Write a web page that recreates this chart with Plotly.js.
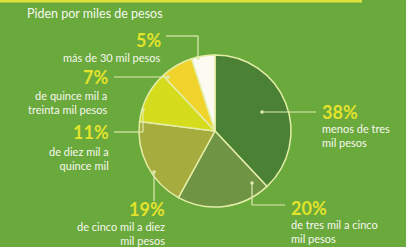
<!DOCTYPE html>
<html><head><meta charset="utf-8">
<script src="https://cdn.plot.ly/plotly-3.0.1.min.js"></script>
<style>html,body{margin:0;padding:0;background:#6aa93c;}#chart{width:406px;height:247px;}</style>
</head><body><div id="chart"></div>
<script>
const categories = ["menos de tres<br>mil pesos", "de tres mil a cinco<br>mil pesos", "de cinco mil a diez<br>mil pesos", "de diez mil a<br>quince mil", "de quince mil a<br>treinta mil pesos", "más de 30 mil pesos"];
const values = [38, 20, 19, 11, 7, 5];
const pctLabels = ["38%", "20%", "19%", "11%", "7%", "5%"];
const sliceColors = ["#4b8135", "#6f9443", "#a6ad3e", "#d5dc1e", "#f0d42c", "#fbfbf2"];
const title = "Piden por miles de pesos";

const W = 406, H = 247;
const px = x => x / W, py = y => 1 - y / H;
const cx = 215, cy = 131, R = 76;

// label placement (pixels): pct x, pct y, anchor, desc y
const place = [
  {x: 320, y: 112, a: "left",  dy: 135},
  {x: 289, y: 208, a: "left",  dy: 231},
  {x: 167, y: 209, a: "right", dy: 233},
  {x: 111, y: 132, a: "right", dy: 158},
  {x: 110, y: 77,  a: "right", dy: 102},
  {x: 163, y: 40,  a: "right", dy: 57}
];

const annotations = [{
  text: title, xref: "paper", yref: "paper", x: px(25), y: py(14),
  xanchor: "left", yanchor: "middle", showarrow: false,
  font: {family: "Lato", size: 12.5, color: "#f4f8ee"}
}];
categories.forEach((c, i) => {
  const p = place[i];
  annotations.push({
    text: "<b>" + pctLabels[i] + "</b>", xref: "paper", yref: "paper",
    x: px(p.x), y: py(p.y), xanchor: p.a, yanchor: "middle", showarrow: false,
    font: {family: "Lato", size: 18, color: "#e3e32c"}
  });
  annotations.push({
    text: c, xref: "paper", yref: "paper", align: p.a,
    x: px(p.x), y: py(p.dy), xanchor: p.a, yanchor: "middle", showarrow: false,
    font: {family: "Lato", size: 11, color: "#f6f8ee"}
  });
});

const lc = "#dfeab0";
const seg = (x0, y0, x1, y1) => ({type: "line", xref: "paper", yref: "paper",
  x0: px(x0), y0: py(y0), x1: px(x1), y1: py(y1), line: {color: lc, width: 1.2}});
const dot = (x, y) => ({type: "circle", xref: "paper", yref: "paper",
  x0: px(x - 1.8), x1: px(x + 1.8), y0: py(y - 1.8), y1: py(y + 1.8),
  fillcolor: lc, line: {width: 0}});

const shapes = [
  {type: "rect", xref: "paper", yref: "paper", x0: 0, x1: px(362), y0: py(2.5), y1: 1,
   fillcolor: "#dde23a", line: {width: 0}},
  seg(262, 112, 316, 112), dot(262, 112),
  seg(252, 183, 252, 205), seg(252, 205, 285, 205), dot(252, 183),
  seg(154, 172, 154, 201), dot(154, 172),
  seg(114, 132, 143, 132), seg(143, 132, 143, 110), dot(143, 110),
  seg(114, 77, 168, 77), dot(168, 77),
  seg(166, 36, 198, 36), seg(198, 36, 198, 58), dot(198, 58)
];

const trace = {
  type: "pie", values: values, labels: categories, sort: false,
  direction: "clockwise", rotation: 0, textinfo: "none", hoverinfo: "none",
  marker: {colors: sliceColors, line: {color: "#e4eea6", width: 1.5}},
  domain: {x: [px(cx - R), px(cx + R)], y: [py(cy + R), py(cy - R)]},
  showlegend: false
};

Plotly.newPlot("chart", [trace], {
  width: W, height: H, margin: {l: 0, r: 0, t: 0, b: 0},
  paper_bgcolor: "#6aa93c", plot_bgcolor: "#6aa93c",
  annotations: annotations, shapes: shapes, showlegend: false
}, {staticPlot: true});
</script></body></html>
